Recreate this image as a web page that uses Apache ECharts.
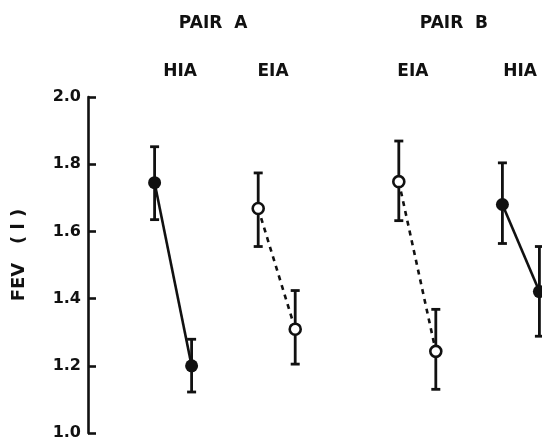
<!DOCTYPE html>
<html>
<head>
<meta charset="utf-8">
<script src="https://cdn.jsdelivr.net/npm/echarts@6/dist/echarts.min.js"></script>
<style>
  html, body { margin: 0; padding: 0; background: #fff; }
  #chart { width: 542px; height: 441px; }
</style>
</head>
<body>
<div id="chart"></div>
<script>
// x positions of the eight measurements (arbitrary units along the page)
var xPos = [1.8, 2.8, 4.6, 5.6, 8.4, 9.4, 11.2, 12.2]
// mean FEV (l) and error bar ends
var means = [1.745, 1.20, 1.668, 1.309, 1.748, 1.243, 1.68, 1.421]
var upper = [1.852, 1.279, 1.774, 1.424, 1.869, 1.368, 1.804, 1.555]
var lower = [1.635, 1.122, 1.555, 1.205, 1.632, 1.13, 1.564, 1.288]
// which pairs are HIA (solid, filled) or EIA (dashed, open)
var pairKinds = ['HIA', 'EIA', 'EIA', 'HIA']

// header labels
var headerTexts = ['PAIR  A', 'PAIR  B', 'HIA', 'EIA', 'EIA', 'HIA']
var headerX = [3.38, 9.89, 2.49, 5.0, 8.78, 11.68]
var headerY = [2.22, 2.22, 2.075, 2.075, 2.075, 2.075]

var ink = '#111'
var font = 'DejaVu Sans'

var series = []

// error bars
var errData = []
for (var i = 0; i < xPos.length; i++) {
  errData.push([xPos[i], lower[i], upper[i]])
}
series.push({
  type: 'custom',
  z: 2,
  data: errData,
  renderItem: function (params, api) {
    var lo = api.coord([api.value(0), api.value(1)])
    var hi = api.coord([api.value(0), api.value(2)])
    var cap = 4.5
    var st = { stroke: ink, lineWidth: 2.8 }
    return {
      type: 'group',
      children: [
        { type: 'line', shape: { x1: lo[0], y1: lo[1], x2: hi[0], y2: hi[1] }, style: st },
        { type: 'line', shape: { x1: hi[0] - cap, y1: hi[1], x2: hi[0] + cap, y2: hi[1] }, style: st },
        { type: 'line', shape: { x1: lo[0] - cap, y1: lo[1], x2: lo[0] + cap, y2: lo[1] }, style: st }
      ]
    }
  }
})

// pair lines
for (var p = 0; p < pairKinds.length; p++) {
  var hia = pairKinds[p] === 'HIA'
  series.push({
    type: 'line',
    z: 3,
    clip: false,
    data: [[xPos[p * 2], means[p * 2]], [xPos[p * 2 + 1], means[p * 2 + 1]]],
    symbol: 'circle',
    symbolSize: hia ? 13 : 11,
    itemStyle: {
      color: hia ? ink : '#fff',
      borderColor: ink,
      borderWidth: hia ? 0 : 2.6
    },
    lineStyle: {
      color: ink,
      width: 2.6,
      type: hia ? 'solid' : [5, 5]
    }
  })
}

// header labels
var headerData = []
for (var h = 0; h < headerTexts.length; h++) {
  headerData.push({ name: headerTexts[h], value: [headerX[h], headerY[h]] })
}
series.push({
  type: 'scatter',
  clip: false,
  symbolSize: 0,
  silent: true,
  itemStyle: { opacity: 1 },
  data: headerData,
  label: {
    show: true,
    position: 'inside',
    formatter: '{b}',
    color: ink,
    fontFamily: font,
    fontWeight: 'bold',
    fontSize: 17
  }
})

var option = {
  animation: false,
  backgroundColor: '#fff',
  grid: { left: 88, right: 0, top: 97, bottom: 7 },
  xAxis: {
    type: 'value',
    min: 0,
    max: 12.27,
    show: false
  },
  yAxis: {
    type: 'value',
    min: 1.0,
    max: 2.0,
    interval: 0.2,
    name: 'FEV   ( l )',
    nameLocation: 'middle',
    nameRotate: 90,
    nameGap: 60,
    nameTextStyle: { color: ink, fontFamily: font, fontWeight: 'bold', fontSize: 18, padding: [0, 0, 0, 20] },
    axisLine: { show: true, lineStyle: { color: ink, width: 2.6 } },
    axisTick: { show: true, inside: true, length: 8, lineStyle: { color: ink, width: 2.6 } },
    splitLine: { show: false },
    axisLabel: {
      color: ink,
      fontFamily: font,
      fontWeight: 'bold',
      fontSize: 16,
      margin: 7,
      formatter: function (v) { return v.toFixed(1) }
    }
  },
  series: series
}

var myChart = echarts.init(document.getElementById('chart'))
myChart.setOption(option)
</script>
</body>
</html>
